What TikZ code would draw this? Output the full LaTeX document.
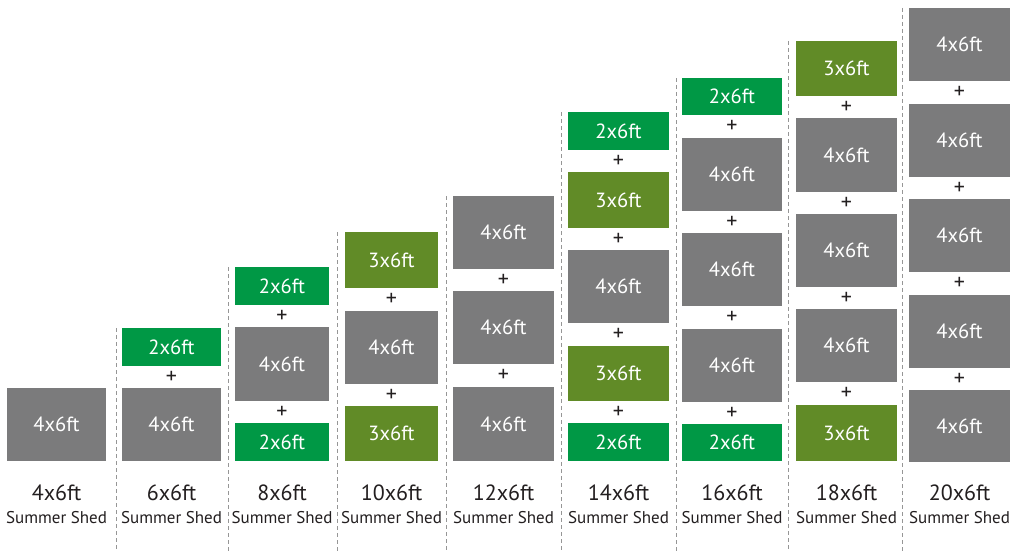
\documentclass[tikz,border=0pt]{standalone}
\usepackage{fontspec}
\setmainfont{PT Sans}
\definecolor{boxgrey}{RGB}{123,123,124}
\definecolor{boxgreen}{RGB}{0,152,69}
\definecolor{boxolive}{RGB}{97,139,39}
\definecolor{txt}{RGB}{35,31,32}
\definecolor{sepgrey}{RGB}{150,150,150}
\usetikzlibrary{calc}
\tikzset{
  shedbase/.style={inner sep=0pt, text=white, font=\fontsize{20.5}{24}\selectfont},
  greybox/.style={shedbase, fill=boxgrey},
  greenbox/.style={shedbase, fill=boxgreen},
  olivebox/.style={shedbase, fill=boxolive},
  plussign/.style={inner sep=0pt, text=txt, font=\fontsize{22}{24}\selectfont},
  sizelab/.style={inner sep=0pt, text=txt, font=\fontsize{22}{26}\selectfont},
  namelab/.style={inner sep=0pt, text=txt, font=\fontsize{17}{20}\selectfont},
  sepline/.style={draw=sepgrey, line width=0.8pt, dash pattern=on 4pt off 3pt},
}
% \shedbx{name}{style}{cx}{width}{top}{bottom}{text}
\newcommand\shedbx[7]{\node[#2, minimum width=#4pt, minimum height={(#6-#5)*1pt}] (#1) at (#3,{(#5+#6)/2}) {#7};}
\newcommand\plusbetween[3]{\node[plussign] (#1) at ($(#2.south)!0.5!(#3.north)$) {+};}
\begin{document}
\begin{tikzpicture}[x=1pt,y=-1pt]
\useasboundingbox (0,0) rectangle (1011,551);
\fill[white] (0,0) rectangle (1011,551);

% separators
\draw[sepline] (116,328) -- (116,551);
\draw[sepline] (228,267) -- (228,551);
\draw[sepline] (337,232) -- (337,551);
\draw[sepline] (446,196) -- (446,551);
\draw[sepline] (561,112) -- (561,551);
\draw[sepline] (676,78) -- (676,551);
\draw[sepline] (788,41) -- (788,551);
\draw[sepline] (902,8) -- (902,551);

% column 1
\shedbx{a1}{greybox}{56.5}{99}{388}{461}{4x6ft}
% column 2
\shedbx{b1}{greenbox}{171.5}{99}{328}{366}{2x6ft}
\shedbx{b2}{greybox}{171.5}{99}{388}{461}{4x6ft}
\plusbetween{bp1}{b1}{b2}
% column 3
\shedbx{c1}{greenbox}{282}{94}{267}{305}{2x6ft}
\shedbx{c2}{greybox}{282}{94}{327}{401}{4x6ft}
\shedbx{c3}{greenbox}{282}{94}{423}{461}{2x6ft}
\plusbetween{cp1}{c1}{c2}
\plusbetween{cp2}{c2}{c3}
% column 4
\shedbx{d1}{olivebox}{391.5}{93}{232}{288}{3x6ft}
\shedbx{d2}{greybox}{391.5}{93}{311}{384}{4x6ft}
\shedbx{d3}{olivebox}{391.5}{93}{406}{461}{3x6ft}
\plusbetween{dp1}{d1}{d2}
\plusbetween{dp2}{d2}{d3}
% column 5
\shedbx{e1}{greybox}{503.5}{101}{196}{269}{4x6ft}
\shedbx{e2}{greybox}{503.5}{101}{291}{364}{4x6ft}
\shedbx{e3}{greybox}{503.5}{101}{387}{461}{4x6ft}
\plusbetween{ep1}{e1}{e2}
\plusbetween{ep2}{e2}{e3}
% column 6
\shedbx{f1}{greenbox}{618.5}{101}{112}{150}{2x6ft}
\shedbx{f2}{olivebox}{618.5}{101}{172}{228}{3x6ft}
\shedbx{f3}{greybox}{618.5}{101}{250}{323}{4x6ft}
\shedbx{f4}{olivebox}{618.5}{101}{346}{401}{3x6ft}
\shedbx{f5}{greenbox}{618.5}{101}{423}{461}{2x6ft}
\plusbetween{fp1}{f1}{f2}
\plusbetween{fp2}{f2}{f3}
\plusbetween{fp3}{f3}{f4}
\plusbetween{fp4}{f4}{f5}
% column 7
\shedbx{g1}{greenbox}{732}{100}{78}{115}{2x6ft}
\shedbx{g2}{greybox}{732}{100}{138}{211}{4x6ft}
\shedbx{g3}{greybox}{732}{100}{233}{306}{4x6ft}
\shedbx{g4}{greybox}{732}{100}{329}{402}{4x6ft}
\shedbx{g5}{greenbox}{732}{100}{424}{461}{2x6ft}
\plusbetween{gp1}{g1}{g2}
\plusbetween{gp2}{g2}{g3}
\plusbetween{gp3}{g3}{g4}
\plusbetween{gp4}{g4}{g5}
% column 8
\shedbx{h1}{olivebox}{846.5}{101}{41}{96}{3x6ft}
\shedbx{h2}{greybox}{846.5}{101}{118}{192}{4x6ft}
\shedbx{h3}{greybox}{846.5}{101}{214}{287}{4x6ft}
\shedbx{h4}{greybox}{846.5}{101}{309}{382}{4x6ft}
\shedbx{h5}{olivebox}{846.5}{101}{405}{461}{3x6ft}
\plusbetween{hp1}{h1}{h2}
\plusbetween{hp2}{h2}{h3}
\plusbetween{hp3}{h3}{h4}
\plusbetween{hp4}{h4}{h5}
% column 9
\shedbx{i1}{greybox}{959.5}{101}{8}{81}{4x6ft}
\shedbx{i2}{greybox}{959.5}{101}{104}{177}{4x6ft}
\shedbx{i3}{greybox}{959.5}{101}{199}{272}{4x6ft}
\shedbx{i4}{greybox}{959.5}{101}{295}{368}{4x6ft}
\shedbx{i5}{greybox}{959.5}{101}{390}{462}{4x6ft}
\plusbetween{ip1}{i1}{i2}
\plusbetween{ip2}{i2}{i3}
\plusbetween{ip3}{i3}{i4}
\plusbetween{ip4}{i4}{i5}

% labels
\foreach \cx/\sz [count=\k] in {56.5/4x6ft,171.5/6x6ft,282/8x6ft,391.5/10x6ft,503.5/12x6ft,618.5/14x6ft,732/16x6ft,846.5/18x6ft,959.5/20x6ft}{
  \node[sizelab] (size\k) at (\cx,493) {\sz};
  \node[namelab] (name\k) at (\cx,518) {Summer Shed};
}
\end{tikzpicture}
\end{document}
